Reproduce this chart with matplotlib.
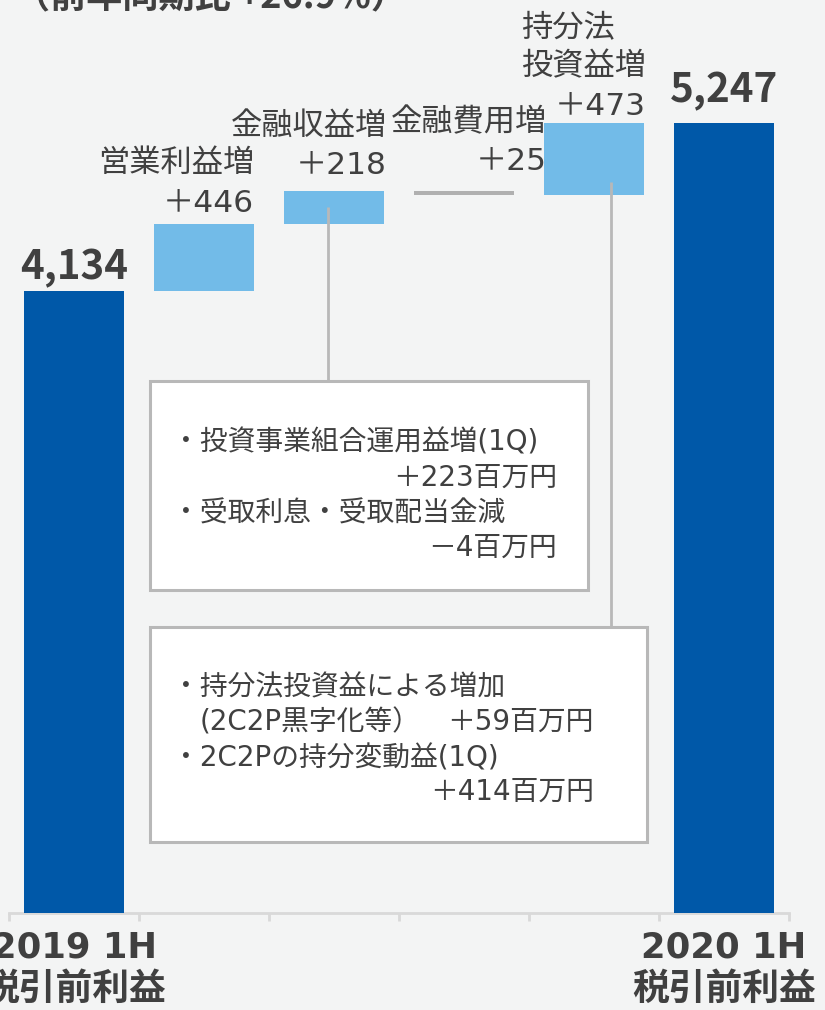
import numpy as np
import matplotlib
matplotlib.use('Agg')
import matplotlib.pyplot as plt
from matplotlib.patches import Rectangle

# Latin glyphs from DejaVu (Verdana-like), Japanese from Noto
plt.rcParams['font.family'] = ['DejaVu Sans', 'Noto Sans CJK JP']
cjk_first = ['Noto Sans CJK JP', 'DejaVu Sans']

# chart data
title = '（前年同期比 +26.9%）'
total_labels = ['2019 1H\n税引前利益', '2020 1H\n税引前利益']
total_values = [4134, 5247]
total_texts = ['4,134', '5,247']
step_names = ['営業利益増', '金融収益増', '金融費用増', '持分法\n投資益増']
step_values = [446, 218, -25, 473]
step_texts = ['＋446', '＋218', '＋25', '＋473']

note1_lines = ['・投資事業組合運用益増(1Q)', '＋223百万円', '・受取利息・受取配当金減', '－4百万円']
note2_lines = ['・持分法投資益による増加', '(2C2P黒字化等）', '＋59百万円',
               '・2C2Pの持分変動益(1Q)', '＋414百万円']

# colours
bg = '#f3f4f4'
dark_blue = '#0058a8'
light_blue = '#72bbe8'
grey_bar = '#b0b0b0'
text_col = '#404040'
frame_col = '#b8b8b8'

W, H = 825, 1010
PX = 0.1505          # pixels per unit of value
base_px = 913        # y pixel of the axis line

fig = plt.figure(figsize=(W / 100, H / 100), dpi=100, facecolor=bg)
ax = fig.add_axes([9 / W, (H - base_px) / H, 780 / W, base_px / H])
ax.set_facecolor(bg)
ax.set_xlim(-0.5, 5.5)
ax.set_ylim(0, base_px / PX)
bw = 100 / 130


def fpx(x, y):
    # pixel position from the top-left corner -> figure fraction
    return x / W, 1 - y / H


# total bars
n = len(step_values)
x_tot = [0, n + 1]
ax.bar(x_tot, total_values, width=bw, color=dark_blue, zorder=3)

# step bars
vals = np.array(step_values)
cum = total_values[0] + np.concatenate([[0], np.cumsum(vals)[:-1]])
bottoms = np.where(vals > 0, cum, cum + vals)
heights = np.abs(vals)
tops = bottoms + heights
cols = [light_blue if v > 0 else grey_bar for v in vals]
x_step = np.arange(1, n + 1)
ax.bar(x_step, heights, bottom=bottoms, width=bw, color=cols, zorder=3)

# total value labels and category labels
tot_dy = [12, 21]
for x, v, t, lab, dy in zip(x_tot, total_values, total_texts, total_labels, tot_dy):
    ax.annotate(t, (x, v), xytext=(0, dy), textcoords='offset pixels',
                ha='center', va='baseline', fontsize=29, fontweight='bold',
                family=cjk_first, color=text_col, annotation_clip=False)
    l1, l2 = lab.split('\n')
    ax.annotate(l1, (x, 0), xytext=(0, -44), textcoords='offset pixels',
                ha='center', va='baseline', fontsize=25.5, fontweight='bold',
                color=text_col, annotation_clip=False)
    ax.annotate(l2, (x, 0), xytext=(0, -87), textcoords='offset pixels',
                ha='center', va='baseline', fontsize=26.5, fontweight='bold',
                family=cjk_first, color=text_col, annotation_clip=False)

# step labels
name_fs = 22.5
em = name_fs / 0.72
val_dy = [12, 17, 21, 8]
name_dy = [52, 56, 60, 48]
right_dx = [0, 3, 33, 2]
for i in range(n):
    xr = x_step[i] + bw / 2
    ax.annotate(step_texts[i], (xr, tops[i]), xytext=(right_dx[i], val_dy[i]),
                textcoords='offset pixels', ha='right', va='baseline',
                fontsize=name_fs, color=text_col, annotation_clip=False)
    lines = step_names[i].split('\n')
    left = right_dx[i] - max(len(s) for s in lines) * em
    for k, s in enumerate(reversed(lines)):
        ax.annotate(s, (xr, tops[i]), xytext=(left, name_dy[i] + 38 * k),
                    textcoords='offset pixels', ha='left', va='baseline',
                    fontsize=name_fs, color=text_col, annotation_clip=False)

# note boxes (pixel layout: left, top, right, bottom)
boxes = [(150, 381, 588, 590), (150, 627, 647, 842)]
for l, t, r, b in boxes:
    x0, y0 = fpx(l, b)
    x1, y1 = fpx(r, t)
    fig.add_artist(Rectangle((x0, y0), x1 - x0, y1 - y0, transform=fig.transFigure,
                             facecolor='white', edgecolor=frame_col, lw=2.2, zorder=5))

# connectors from bars down to the boxes
conn_px = [328, 611]
conn_bar = [1, 3]
conn_start = [0.5, 0.18]
for px, bi, fr, (l, t, r, b) in zip(conn_px, conn_bar, conn_start, boxes):
    xd = (px - 9) / 130 - 0.5
    y_start = bottoms[bi] + fr * heights[bi]
    y_end = (base_px - t) / PX
    ax.plot([xd, xd], [y_start, y_end], color=frame_col, lw=2, zorder=4,
            solid_capstyle='butt')

# note texts
note_fs = 20
note1_pos = [(172, 451, 'left'), (557, 486, 'right'), (172, 522, 'left'), (557, 556, 'right')]
note2_pos = [(172, 695, 'left'), (200, 730, 'left'), (594, 730, 'right'),
             (172, 767, 'left'), (594, 800, 'right')]
for lines, pos in [(note1_lines, note1_pos), (note2_lines, note2_pos)]:
    for s, (x, y, ha) in zip(lines, pos):
        fig.text(*fpx(x, y), s, ha=ha, va='baseline', fontsize=note_fs,
                 color=text_col, zorder=6)

# title, cut off at the top edge
fig.text(*fpx(14, 7), title, ha='left', va='baseline', fontsize=26,
         fontweight='bold', family=cjk_first, color=text_col)

# axis styling
for side in ['top', 'left', 'right']:
    ax.spines[side].set_visible(False)
ax.spines['bottom'].set_color('#d9d9d9')
ax.spines['bottom'].set_linewidth(2)
ax.set_yticks([])
ax.set_xticks(np.arange(-0.5, 6, 1))
ax.set_xticklabels([])
ax.tick_params(axis='x', length=6, width=2, color='#d9d9d9')

fig.savefig('out.png', dpi=100, facecolor=bg)
